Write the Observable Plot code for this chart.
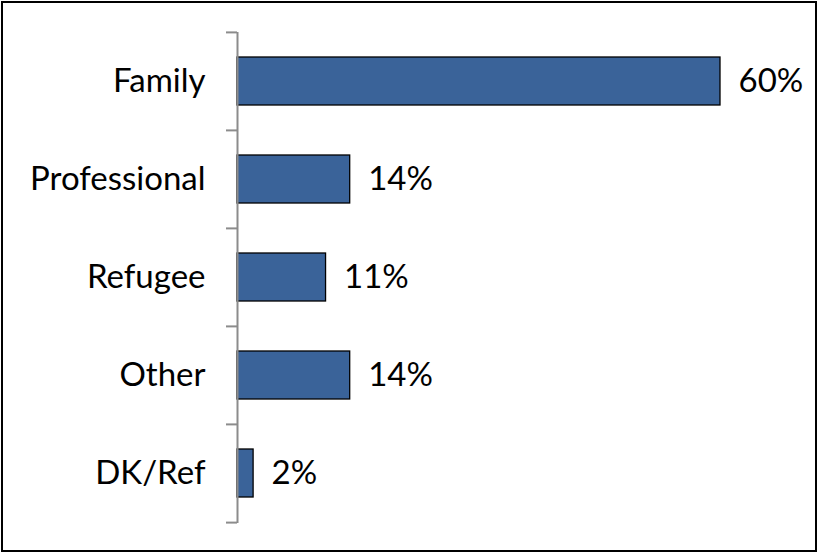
<!DOCTYPE html>
<html>
<head>
<meta charset="utf-8">
<script src="https://cdn.jsdelivr.net/npm/d3@7"></script>
<script src="https://cdn.jsdelivr.net/npm/@observablehq/plot@0.6"></script>
<style>
  html, body { margin: 0; padding: 0; background: #fff; }
  #wrap { position: relative; width: 819px; height: 555px; }
  #frame { position: absolute; left: 1px; top: 1px; width: 816px; height: 551px; border: 2px solid #000; box-sizing: border-box; pointer-events: none; }
</style>
</head>
<body>
<div id="wrap"><div id="frame"></div></div>
<script>
const categories = ["Family", "Professional", "Refugee", "Other", "DK/Ref"];
const values = [60, 14, 11, 14, 2];
const labels = ["60%", "14%", "11%", "14%", "2%"];

const data = categories.map((c, i) => ({category: c, value: values[i], label: labels[i]}));

const W = 819, H = 555, mT = 32, mB = 32, mL = 237, mR = 99;
const step = (H - mT - mB) / categories.length;
const tickLen = 11 * 60 / (W - mL - mR);
const font = "Lato, 'Open Sans', sans-serif";

const chart = Plot.plot({
  width: W,
  height: H,
  marginTop: mT,
  marginBottom: mB,
  marginLeft: mL,
  marginRight: mR,
  style: {fontFamily: font, fontSize: "33px", color: "#000", background: "transparent", overflow: "visible"},
  x: {domain: [0, 60], axis: null},
  y: {domain: categories, paddingInner: 0.51, paddingOuter: 0.255, label: null, tickSize: 0, tickPadding: 32},
  marks: [
    Plot.barX(data, {x: "value", y: "category", fill: "#3A6399", stroke: "#000", strokeWidth: 1.3}),
    Plot.ruleX([0], {stroke: "#8c8c8c", strokeWidth: 2}),
    Plot.ruleY(categories, {y: d => d, x1: -tickLen, x2: 0, dy: -step / 2, stroke: "#8c8c8c", strokeWidth: 2, clip: false}),
    Plot.ruleY(categories.slice(-1), {y: d => d, x1: -tickLen, x2: 0, dy: step / 2, stroke: "#8c8c8c", strokeWidth: 2, clip: false}),
    Plot.text(data, {x: "value", y: "category", text: "label", dx: 18, textAnchor: "start", fill: "#000", fontSize: 33, letterSpacing: "1px"})
  ]
});
document.getElementById("wrap").prepend(chart);
chart.style.position = "absolute";
chart.style.left = "0";
chart.style.top = "0";
</script>
</body>
</html>
